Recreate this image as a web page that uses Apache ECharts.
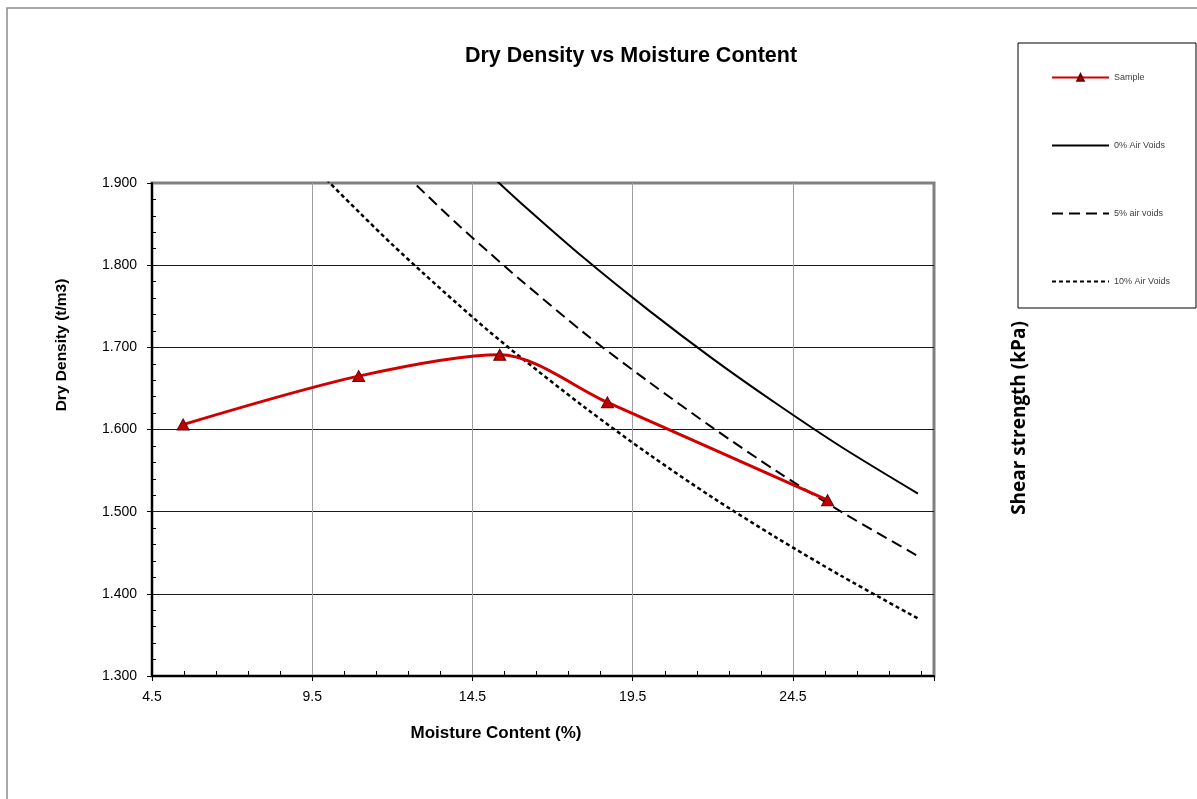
<!DOCTYPE html>
<html>
<head>
<meta charset="utf-8">
<script src="https://cdn.jsdelivr.net/npm/echarts@6/dist/echarts.min.js"></script>
<style>
html,body{margin:0;padding:0;background:#fff;}
#chart{width:1197px;height:799px;}
</style>
</head>
<body>
<div id="chart"></div>
<script>
// ---- data ----
const sampleMoisture = [5.47, 10.95, 15.35, 18.71, 25.58];
const sampleDensity  = [1.606, 1.665, 1.691, 1.633, 1.514];

const voids0Moisture = [14, 15, 16, 18, 20, 22, 24, 26, 28.4];
const voids0Density  = [1.949, 1.912, 1.876, 1.808, 1.745, 1.686, 1.631, 1.579, 1.522];

const voids5Moisture = [12, 13, 14, 15, 16, 18, 20, 22, 24, 26, 28.4];
const voids5Density  = [1.926, 1.888, 1.851, 1.816, 1.782, 1.717, 1.658, 1.602, 1.549, 1.500, 1.446];

const voids10Moisture = [9.5, 10, 11, 12, 13, 14, 15, 16, 18, 20, 22, 24, 26, 28.4];
const voids10Density  = [1.923, 1.902, 1.863, 1.825, 1.789, 1.754, 1.720, 1.688, 1.627, 1.570, 1.517, 1.468, 1.422, 1.370];

const seriesNames = ['Sample', '0% Air Voids', '5% air voids', '10% Air Voids'];
const xTickLabels = ['4.5', '9.5', '14.5', '19.5', '24.5'];
const yTickLabels = ['1.300', '1.400', '1.500', '1.600', '1.700', '1.800', '1.900'];

const titleText = 'Dry Density vs Moisture Content';
const xName = 'Moisture Content (%)';
const yName = 'Dry Density (t/m3)';
const y2Name = 'Shear strength (kPa)';

function pairs(xs, ys) { return xs.map((x, i) => [x, ys[i]]); }

const FONT = '"Liberation Sans", Arial, sans-serif';
const chart = echarts.init(document.getElementById('chart'), null, {renderer: 'canvas'});

chart.setOption({
  animation: false,
  backgroundColor: '#fff',
  grid: {
    left: 152, top: 183, right: 263, bottom: 123,
    show: true, borderColor: '#808080', borderWidth: 3, backgroundColor: 'transparent'
  },
  xAxis: {
    type: 'value', min: 4.5, max: 28.9, interval: 5,
    axisLine: {show: true, lineStyle: {color: '#000', width: 2}},
    axisTick: {show: true, length: 5, lineStyle: {color: '#000', width: 1}},
    minorTick: {show: true, splitNumber: 5, length: -5, lineStyle: {color: '#000', width: 1}},
    splitLine: {show: true, showMinLine: false, showMaxLine: false, lineStyle: {color: '#a0a0a0', width: 1}},
    axisLabel: {
      margin: 14, fontSize: 14, color: '#000', fontFamily: FONT,
      formatter: function (v) {
        const s = v.toFixed(1);
        return xTickLabels.indexOf(s) >= 0 ? s : '';
      }
    }
  },
  yAxis: {
    type: 'value', min: 1.3, max: 1.9, interval: 0.1,
    axisLine: {show: true, lineStyle: {color: '#000', width: 2}},
    axisTick: {show: true, length: 5, lineStyle: {color: '#000', width: 1}},
    minorTick: {show: true, splitNumber: 5, length: -4, lineStyle: {color: '#000', width: 1}},
    splitLine: {show: true, showMinLine: false, showMaxLine: false, lineStyle: {color: '#1a1a1a', width: 1}},
    axisLabel: {
      margin: 15, fontSize: 14, color: '#000', fontFamily: FONT,
      formatter: function (v) {
        const s = v.toFixed(3);
        return yTickLabels.indexOf(s) >= 0 ? s : '';
      }
    }
  },
  legend: {
    orient: 'vertical', left: 1051, top: 73, padding: 0,
    itemWidth: 57, itemHeight: 8, itemGap: 59,
    textStyle: {fontSize: 9, color: '#404040', fontFamily: FONT},
    data: [
      {name: seriesNames[0]},
      {name: seriesNames[1], itemStyle: {opacity: 0}},
      {name: seriesNames[2], itemStyle: {opacity: 0}},
      {name: seriesNames[3], itemStyle: {opacity: 0}}
    ]
  },
  series: [
    {
      name: seriesNames[1], type: 'line', data: pairs(voids0Moisture, voids0Density),
      smooth: 0.3, symbol: 'none', clip: true, z: 3,
      lineStyle: {color: '#000', width: 2, type: 'solid'}, itemStyle: {color: '#000'}
    },
    {
      name: seriesNames[2], type: 'line', data: pairs(voids5Moisture, voids5Density),
      smooth: 0.3, symbol: 'none', clip: true, z: 3,
      lineStyle: {color: '#000', width: 2, type: [11, 6]}, itemStyle: {color: '#000'}
    },
    {
      name: seriesNames[3], type: 'line', data: pairs(voids10Moisture, voids10Density),
      smooth: 0.3, symbol: 'none', clip: true, z: 3,
      lineStyle: {color: '#000', width: 2.5, type: [4, 3]}, itemStyle: {color: '#000'}
    },
    {
      name: seriesNames[0], type: 'line', data: pairs(sampleMoisture, sampleDensity),
      smooth: 0.3, symbol: 'triangle', symbolSize: [12, 11], showSymbol: true, z: 4,
      lineStyle: {color: '#d00000', width: 3},
      itemStyle: {color: '#c00000', borderColor: '#6b0000', borderWidth: 1}
    }
  ],
  graphic: [
    {type: 'rect', silent: true, z: -10, shape: {x: 7, y: 8, width: 1400, height: 1000},
     style: {fill: 'none', stroke: '#8c8c8c', lineWidth: 1.5}},
    {type: 'rect', silent: true, z: -10, shape: {x: 1018, y: 43, width: 178, height: 265},
     style: {fill: 'none', stroke: '#000', lineWidth: 1}},
    {type: 'text', x: 631, y: 56, silent: true,
     style: {text: titleText, font: 'bold 21.5px ' + FONT, fill: '#000', textAlign: 'center', textVerticalAlign: 'middle'}},
    {type: 'text', x: 496, y: 733, silent: true,
     style: {text: xName, font: 'bold 17px ' + FONT, fill: '#000', textAlign: 'center', textVerticalAlign: 'middle'}},
    {type: 'text', x: 62, y: 345, rotation: Math.PI / 2, silent: true,
     style: {text: yName, font: 'bold 15.5px ' + FONT, fill: '#000', textAlign: 'center', textVerticalAlign: 'middle'}},
    {type: 'text', x: 1020, y: 418, rotation: Math.PI / 2, silent: true,
     style: {text: y2Name, font: 'bold 19px "Open Sans", "Noto Sans", sans-serif', fill: '#000', textAlign: 'center', textVerticalAlign: 'middle'}}
  ]
});
</script>
</body>
</html>
